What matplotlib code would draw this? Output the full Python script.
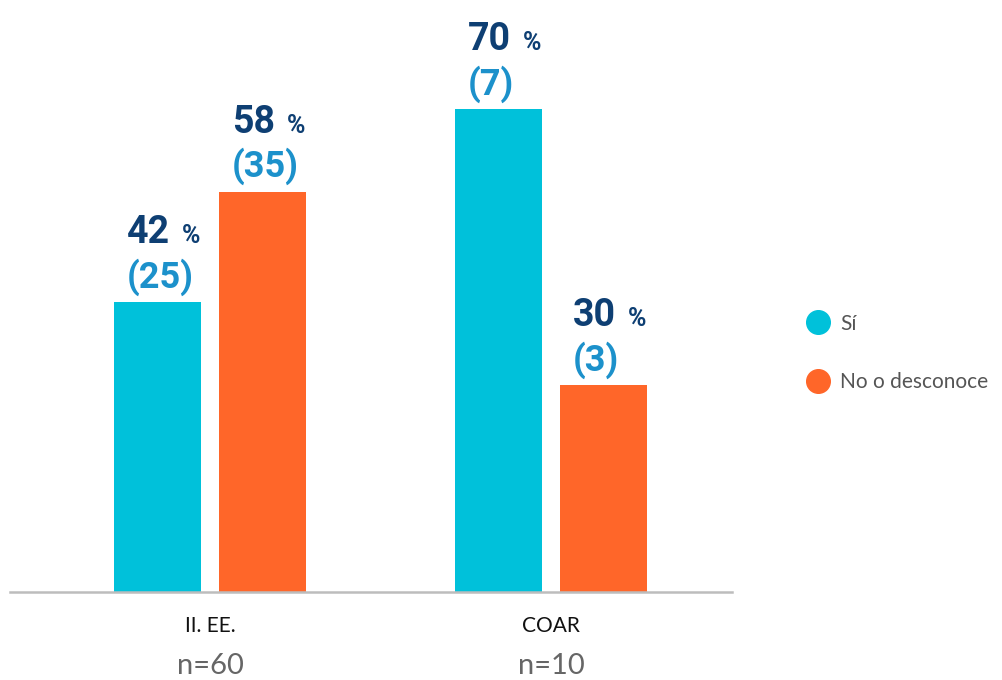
import matplotlib
matplotlib.use("Agg")
import matplotlib.pyplot as plt
from matplotlib.lines import Line2D

categories = ["II. EE.", "COAR"]
sample_sizes = ["n=60", "n=10"]
series_names = ["Sí", "No o desconoce"]
pct_si = [42, 70]
pct_no = [58, 30]
count_si = [25, 7]
count_no = [35, 3]

c_si = "#00C1DA"
c_no = "#FF6629"
c_pct = "#0E3F73"
c_cnt = "#1C91CB"

W, H = 1002, 680
fig = plt.figure(figsize=(W / 100, H / 100), dpi=100)
ax = fig.add_axes([10 / W, (H - 592) / H, (732 - 10) / W, 592 / H])

width = 0.255
offset = 0.154
x = [0, 1]
ax.set_xlim(-0.587, 1.531)
ax.set_ylim(0, 85.8)

bars_si = ax.bar([xi - offset for xi in x], pct_si, width, color=c_si, zorder=2)
bars_no = ax.bar([xi + offset for xi in x], pct_no, width, color=c_no, zorder=2)

def label(bars, pcts, counts):
    for b, p, c in zip(bars, pcts, counts):
        left = b.get_x()
        h = b.get_height()
        ax.annotate(f"({c})", xy=(left, h), xytext=(9, 10.5), textcoords="offset points",
                    ha="left", va="baseline", fontsize=26, fontweight="bold",
                    family="Roboto", color=c_cnt)
        ax.annotate(f"{p}", xy=(left, h), xytext=(9, 42.5), textcoords="offset points",
                    ha="left", va="baseline", fontsize=27, fontweight="bold",
                    family="Roboto", color=c_pct)
        ax.annotate("%", xy=(left, h), xytext=(48.5, 42.5), textcoords="offset points",
                    ha="left", va="baseline", fontsize=18, fontweight="bold",
                    family="Roboto", color=c_pct)

label(bars_si, pct_si, count_si)
label(bars_no, pct_no, count_no)

for s in ["top", "right", "left"]:
    ax.spines[s].set_visible(False)
ax.spines["bottom"].set_color("#BDBDBD")
ax.spines["bottom"].set_linewidth(1.8)
ax.set_yticks([])
ax.set_xticks(x)
ax.set_xticklabels(categories, fontsize=15, family="Lato", color="#111111")
ax.tick_params(axis="x", length=0, pad=17)

for xi, n in zip(x, sample_sizes):
    ax.text(xi, -0.125, n, transform=ax.get_xaxis_transform(), ha="center",
            va="center", fontsize=21, family="Lato", color="#666666")

handles = [Line2D([], [], marker="o", linestyle="none", markersize=17,
                  markerfacecolor=c, markeredgecolor=c) for c in (c_si, c_no)]
leg = ax.legend(handles, series_names, loc="center left",
                bbox_to_anchor=(787 / W, 1 - 353 / H), bbox_transform=fig.transFigure,
                frameon=False, labelspacing=1.85, handletextpad=0.45,
                prop={"family": "Lato", "size": 15}, handlelength=1.2)
for t in leg.get_texts():
    t.set_color("#555555")

fig.savefig("out.png", dpi=100)
